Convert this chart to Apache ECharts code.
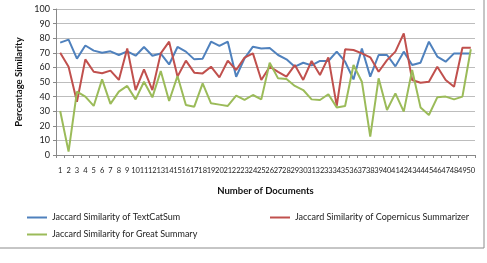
<!DOCTYPE html>
<html>
<head>
<meta charset="utf-8">
<script src="https://cdn.jsdelivr.net/npm/echarts@6/dist/echarts.min.js"></script>
<style>
  html, body { margin: 0; padding: 0; background: #fff; }
  #chart { width: 487px; height: 263px; }
</style>
</head>
<body>
<div id="chart"></div>
<script>
// 文档编号 1..50
var categories = ["1","2","3","4","5","6","7","8","9","10","11","12","13","14","15","16","17","18","19","20",
  "21","22","23","24","25","26","27","28","29","30","31","32","33","34","35","36","37","38","39","40",
  "41","42","43","44","45","46","47","48","49","50"];

var textCatSum = [77, 79, 66, 75, 71.5, 70, 71, 68.5, 71, 68, 74, 68, 69.5, 62, 74, 70.8, 65.5, 66, 77.6, 74.7,
  77.6, 53.6, 66.2, 74.2, 73, 73.3, 68.5, 65.5, 60.5, 63.2, 61.4, 64.4, 64.4, 70.8, 63.9, 51.8, 73, 53.7, 68.5, 68.5,
  60.7, 70.8, 61.6, 63.2, 77.6, 67.4, 63.9, 69.6, 69.6, 69.6];

var copernicus = [70, 60.5, 36.5, 65.5, 57, 56, 57.8, 51.4, 73, 44.5, 58.7, 44.5, 69.6, 77.6, 53.7, 64.6, 56.4, 55.9, 60.5, 53.2,
  64.6, 58.2, 66.7, 69.6, 51.4, 60.5, 57, 53.7, 61.6, 51.4, 64.4, 54.8, 66.9, 33.6, 72.4, 71.9, 69.6, 66.9, 57, 65,
  70.8, 83.3, 51.4, 49.5, 50.2, 60.5, 51.4, 46.8, 73.5, 73.5];

var greatSummary = [30.1, 2.3, 43.4, 40, 33.6, 51.8, 35, 43.4, 47.3, 38.1, 50.2, 39.5, 57.5, 37, 54.1, 34.2, 33.1, 49, 35.4, 34.5,
  33.6, 40.6, 37.7, 41.1, 38.1, 63.2, 52.5, 52, 47.3, 44.5, 38.1, 37.7, 41.6, 32.6, 33.6, 61.6, 50.2, 12.6, 52.5, 30.8,
  42.2, 29.7, 58.2, 32.6, 27.4, 39.5, 40, 38.1, 40, 72.4];

var seriesNames = [
  "Jaccard Similarity of TextCatSum",
  "Jaccard Similarity of Copernicus Summarizer",
  "Jaccard Similarity for Great Summary"
];

var fontFamily = "Lato, 'Liberation Sans', sans-serif";
var myChart = echarts.init(document.getElementById("chart"));

function lineSeries(name, data, color) {
  return {
    name: name,
    type: "line",
    data: data,
    symbol: "none",
    smooth: false,
    lineStyle: { color: color, width: 2 },
    itemStyle: { color: color }
  };
}

var legendText = { fontSize: 9, color: "#222", fontFamily: fontFamily };

myChart.setOption({
  animation: false,
  textStyle: { fontFamily: fontFamily },
  grid: {
    left: 56,
    right: 12,
    top: 9,
    bottom: 108
  },
  legend: [
    {
      data: [seriesNames[0]],
      left: 22, top: 208,
      icon: "rect", itemWidth: 20, itemHeight: 2,
      textStyle: legendText
    },
    {
      data: [seriesNames[1]],
      left: 265, top: 208,
      icon: "rect", itemWidth: 20, itemHeight: 2,
      textStyle: legendText
    },
    {
      data: [seriesNames[2]],
      left: 22, top: 225,
      icon: "rect", itemWidth: 20, itemHeight: 2,
      textStyle: legendText
    }
  ],
  graphic: [
    {
      type: "rect",
      shape: { x: -1, y: -1, width: 485, height: 249 },
      style: { fill: "none", stroke: "#8c8c8c", lineWidth: 1 },
      silent: true
    }
  ],
  xAxis: {
    type: "category",
    data: categories,
    boundaryGap: true,
    name: "Number of Documents",
    nameLocation: "middle",
    nameGap: 31,
    nameTextStyle: { fontWeight: "bold", fontSize: 9.5, color: "#111", fontFamily: fontFamily },
    axisLine: { lineStyle: { color: "#888", width: 1 } },
    axisTick: { show: true, length: 3, lineStyle: { color: "#888" } },
    axisLabel: {
      interval: 0,
      hideOverlap: false,
      fontSize: 7.5,
      color: "#222",
      margin: 12
    },
    splitLine: { show: false }
  },
  yAxis: {
    type: "value",
    min: 0,
    max: 100,
    interval: 10,
    name: "Percentage Similarity",
    nameLocation: "middle",
    nameGap: 31,
    nameTextStyle: { fontWeight: "bold", fontSize: 9.5, color: "#111", fontFamily: fontFamily },
    axisLine: { show: true, lineStyle: { color: "#888", width: 1 } },
    axisTick: { show: true, length: 3, lineStyle: { color: "#888" } },
    axisLabel: { fontSize: 9, color: "#222", margin: 6 },
    splitLine: { show: true, lineStyle: { color: "#bdbdbd", width: 1 } }
  },
  series: [
    lineSeries(seriesNames[0], textCatSum, "#4F81BD"),
    lineSeries(seriesNames[1], copernicus, "#C0504D"),
    lineSeries(seriesNames[2], greatSummary, "#9BBB59")
  ]
});

window.addEventListener("resize", function () {
  myChart.resize();
});
</script>
</body>
</html>
